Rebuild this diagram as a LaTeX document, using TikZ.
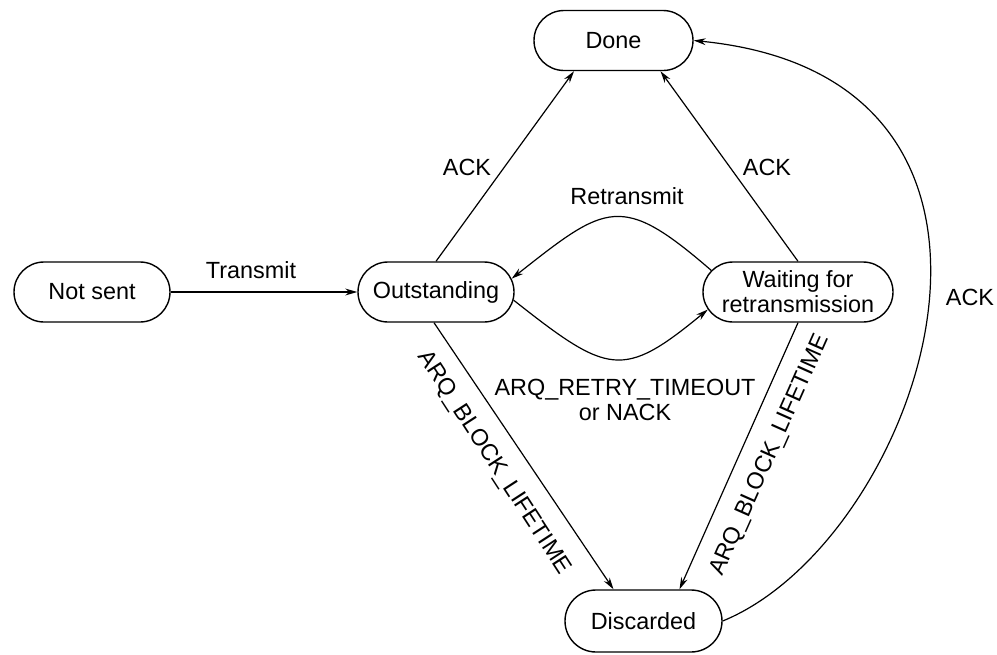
\documentclass[tikz,border=0pt]{standalone}
\usepackage{fontspec}
\setmainfont{Liberation Sans}
\usetikzlibrary{arrows.meta,shapes.misc}
\begin{document}
\begin{tikzpicture}[x=0.5pt,y=-0.5pt,
  txt/.style={font=\fontsize{11.7}{12.5}\selectfont},
  state/.style={txt, draw, rounded rectangle, minimum height=30pt,
    inner sep=0pt, align=center, line width=0.7pt},
  trans/.style={line width=0.6pt, -{Stealth[length=6pt,width=3.4pt]}},
  lbl/.style={txt, inner sep=1pt, align=center}]
\useasboundingbox (0,0) rectangle (997,654);

% states
\node[state, minimum width=78pt] (notsent) at (92,292) {Not sent};
\node[state, minimum width=78pt] (outst) at (436,292) {Outstanding};
\node[state, minimum width=79.5pt] (done) at (613.5,40.5) {Done};
\node[state, minimum width=95pt] (wait) at (798,292) {Waiting for\\retransmission};
\node[state, minimum width=78.5pt, minimum height=31pt] (disc) at (643.5,621) {Discarded};

% transitions
\draw[trans] (notsent.east) -- (outst.west);
\draw[trans] (outst.north) -- ([xshift=-19.75pt]done.south);
\draw[trans] (wait.north) -- ([xshift=23.5pt]done.south);
\draw[trans] (wait.166) .. controls +(-90,-78) and +(95,-75) .. (outst.10);
\draw[trans] (outst.-6) .. controls +(95,75) and +(-85,70) .. (wait.191);
\draw[trans] ([xshift=-1pt]outst.south) -- ([xshift=-15pt]disc.north);
\draw[trans] (wait.south) -- ([xshift=18pt]disc.north);
\draw[trans] (disc.east) .. controls +(198,-81) and +(385,38) .. (done.east);

% labels
\node[lbl] (lTransmit) at (251,270) {Transmit};
\node[lbl] (lAckA) at (467,167) {ACK};
\node[lbl] (lAckB) at (767,167) {ACK};
\node[lbl] (lRetx) at (627,196) {Retransmit};
\node[lbl] (lTimeout) at (625,400) {ARQ\_RETRY\_TIMEOUT\\or NACK};
\node[lbl] (lAckC) at (970,297) {ACK};
\node[lbl, rotate=-57] (lLifeA) at (494,463) {ARQ\_BLOCK\_LIFETIME};
\node[lbl, rotate=66] (lLifeB) at (770,455) {ARQ\_BLOCK\_LIFETIME};
\end{tikzpicture}
\end{document}
